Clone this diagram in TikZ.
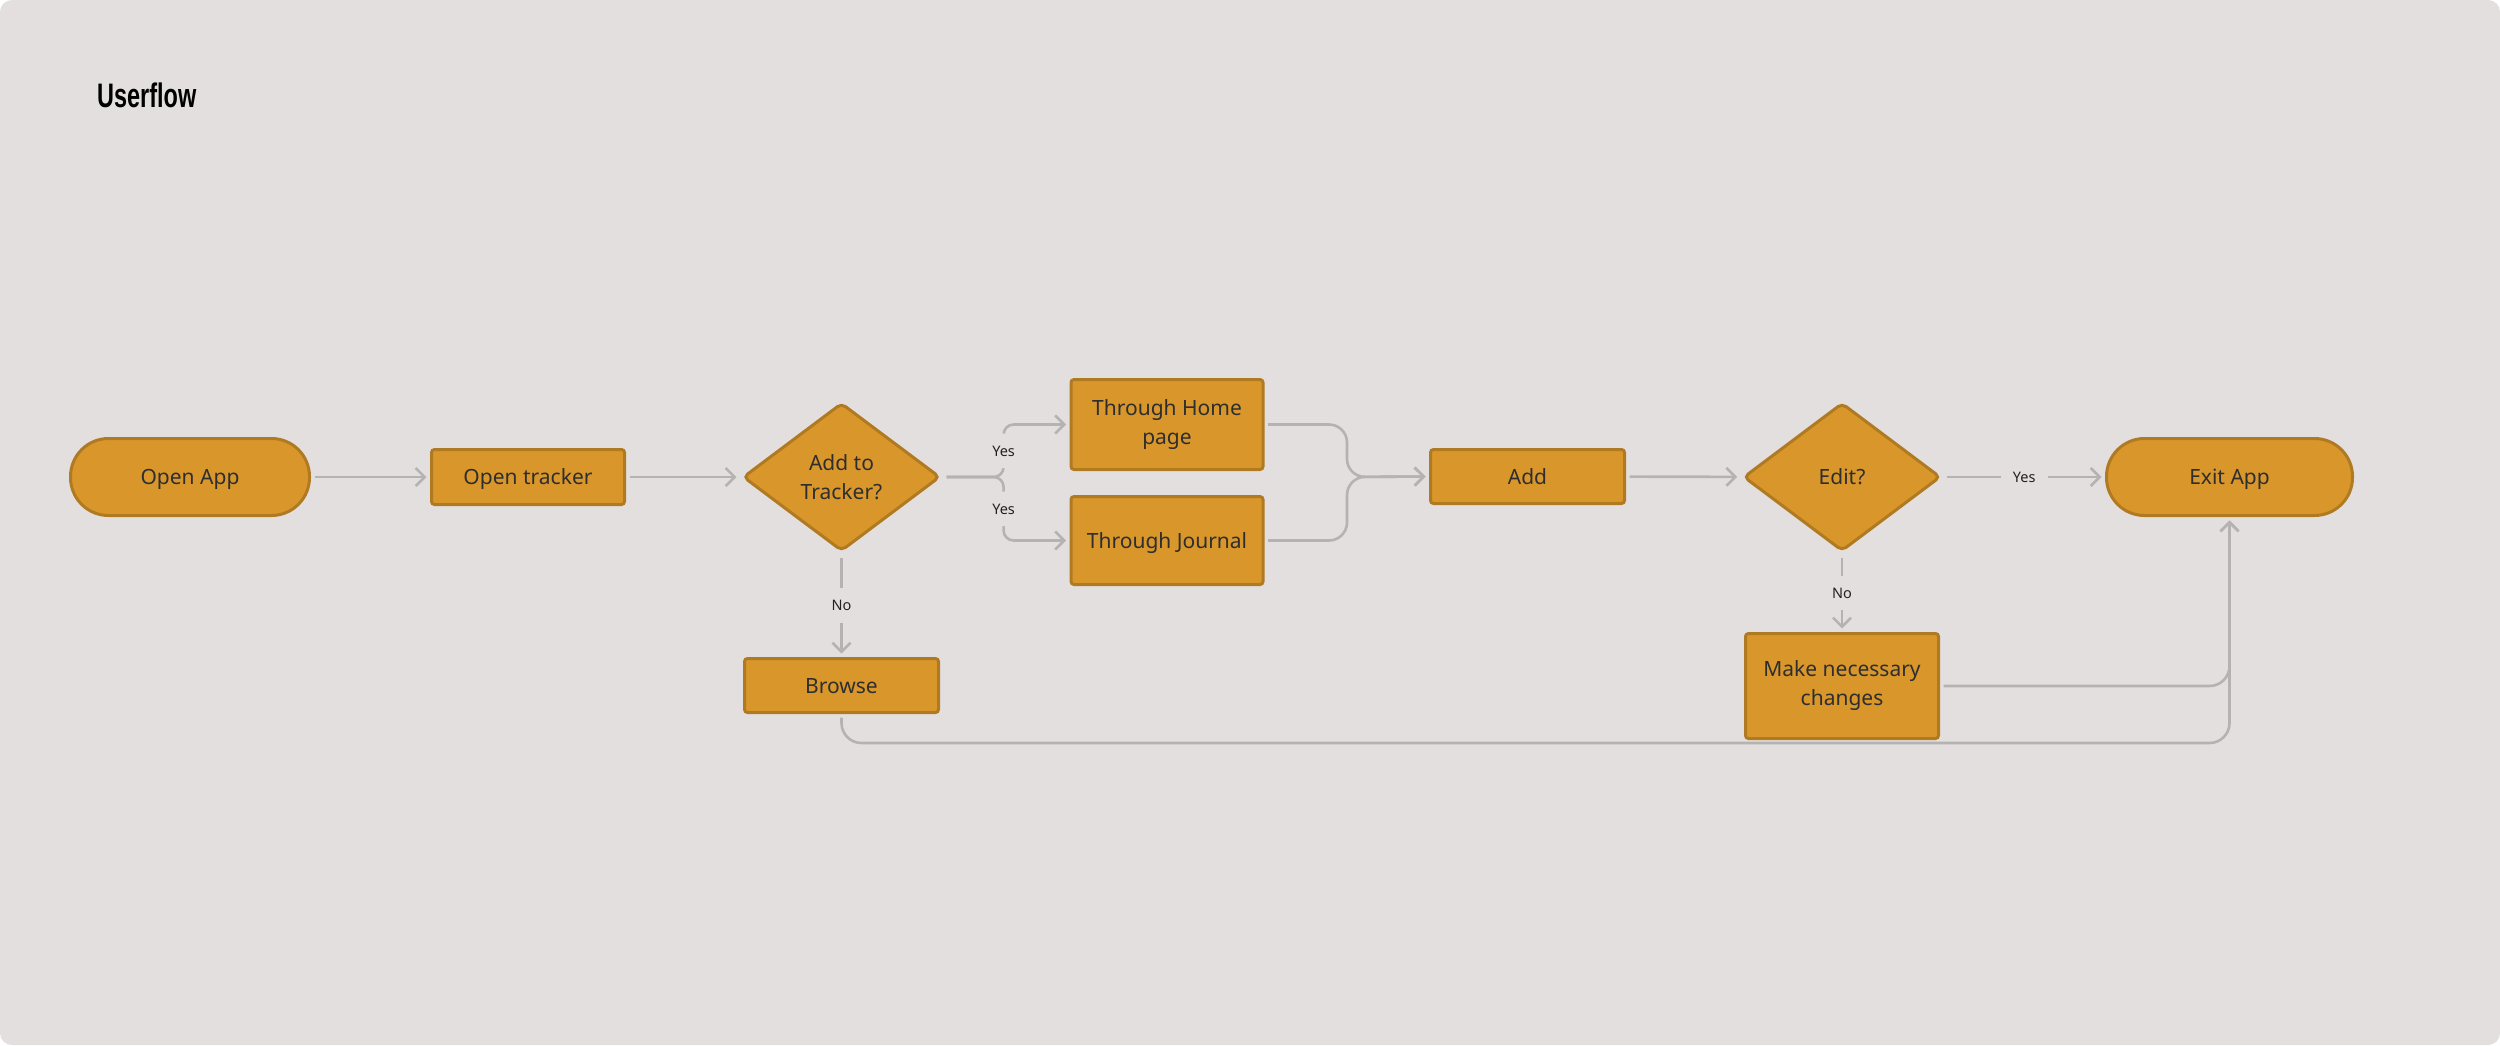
\documentclass[tikz,border=0pt]{standalone}
\usepackage{fontspec}
\usepackage{graphicx}
\setmainfont{Noto Sans}
\newfontfamily\titlefont{Liberation Sans}
\usetikzlibrary{shapes.geometric,arrows.meta}
\definecolor{bgc}{HTML}{E3DFDE}
\definecolor{boxc}{HTML}{D9972B}
\definecolor{brd}{HTML}{B07A22}
\definecolor{lnc}{HTML}{B5B3B1}
\definecolor{txtc}{HTML}{2E2E2E}
\definecolor{lblc}{HTML}{222222}
\newcommand\nodefont{\fontsize{21}{29}\selectfont}
\newcommand\lblfont{\fontsize{14.5}{17}\selectfont}
\tikzset{
  box/.style={draw=brd, fill=boxc, line width=3pt, text=txtc, font=\nodefont,
    inner sep=0pt, outer sep=5pt, rounded corners=3pt, align=center},
  single/.style={text height=15pt, text depth=0pt},
  pill/.style={box, single, rounded corners=38pt},
  dia/.style={box, diamond, minimum width=200pt, minimum height=151pt, rounded corners=5pt},
  conn/.style={draw=lnc, line width=2.6pt, -{Straight Barb[length=9pt,width=18pt]}},
  lbl/.style={fill=bgc, text=lblc, font=\lblfont, inner sep=12pt, text height=10.5pt, text depth=0pt}
}
\begin{document}
\begin{tikzpicture}[x=1pt,y=-1pt]
\useasboundingbox (0,0) rectangle (2500,1045);
\fill[white] (0,0) rectangle (2500,1045);
\fill[bgc, rounded corners=12pt] (0,0) rectangle (2500,1045);

\node[anchor=base west, inner sep=0pt, font=\titlefont\bfseries\fontsize{34}{40}\selectfont, text=black] (title) at (97,107) {\scalebox{0.69}[1]{Userflow}};

\node[pill, minimum width=239pt, minimum height=77pt] (openapp) at (190,477) {Open App};
\node[box, single, minimum width=193pt, minimum height=55pt] (tracker) at (528,477) {Open tracker};
\node[dia] (q1) at (841.5,477) {Add to\\Tracker?};
\node[box, minimum width=192pt, minimum height=90pt] (home) at (1167,424.5) {Through Home\\page};
\node[box, single, minimum width=192pt, minimum height=88pt] (journal) at (1167,540.5) {Through Journal};
\node[box, single, minimum width=194pt, minimum height=54pt] (browse) at (841.5,685.5) {Browse};
\node[box, single, minimum width=194pt, minimum height=54pt] (add) at (1527.5,476.5) {Add};
\node[dia] (q2) at (1842,477) {Edit?};
\node[pill, minimum width=246pt, minimum height=77pt] (exit) at (2229.5,477) {Exit App};
\node[box, minimum width=193pt, minimum height=105pt] (changes) at (1842,686) {Make necessary\\changes};

\coordinate (bot) at (0,743);
\coordinate (br) at (1003.6,477);
\coordinate (mg) at (1347,477);

\draw[conn] (openapp) -- (tracker);
\draw[conn] (tracker) -- (q1);
\draw[conn, rounded corners=10pt] (q1.east) -- (br) -- node[lbl] (y1) {Yes} (br |- home.west) -- (home.west);
\draw[conn, rounded corners=10pt] (q1.east) -- (br) -- node[lbl] (y2) {Yes} (br |- journal.west) -- (journal.west);
\draw[conn, rounded corners=18pt] (home.east) -- (mg |- home.east) -- (mg) -- (add.west);
\draw[conn, rounded corners=18pt] (journal.east) -- (mg |- journal.east) -- (mg) -- (add.west);
\draw[conn] (q1.south) -- node[lbl] (n1) {No} (browse.north);
\draw[conn] (add) -- (q2);
\draw[conn] (q2.east) -- node[lbl] (y3) {Yes} (exit.west);
\draw[conn] (q2.south) -- node[lbl] (n2) {No} (changes.north);
\draw[conn, rounded corners=20pt] (changes.east) -- (exit.south |- changes.east) -- (exit.south);
\draw[conn, rounded corners=20pt] (browse.south) -- (browse.south |- bot) -- (exit.south |- bot) -- (exit.south);
\end{tikzpicture}
\end{document}
